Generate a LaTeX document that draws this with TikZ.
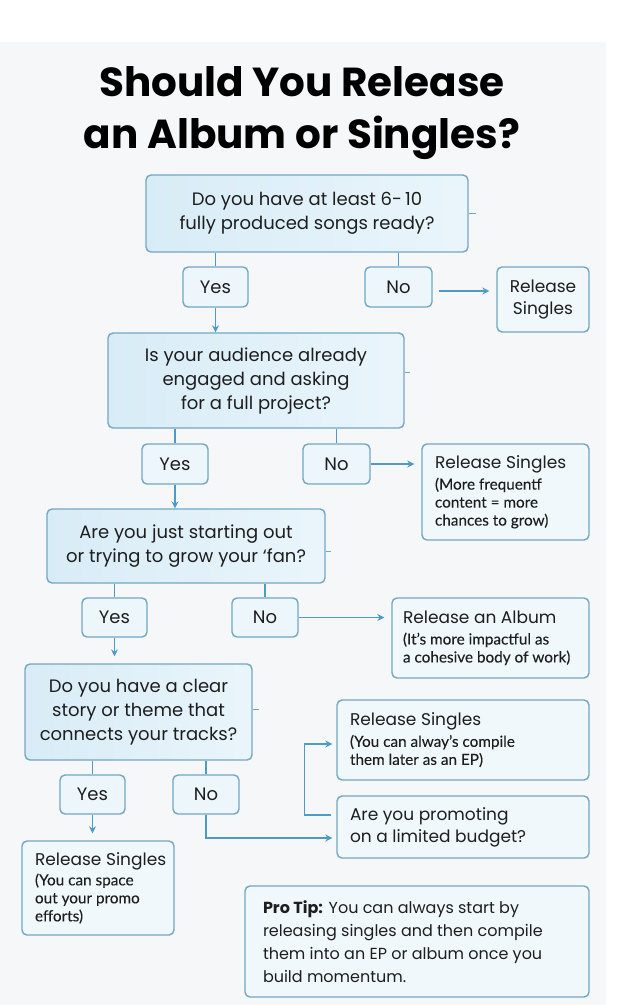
\documentclass[tikz,border=0pt]{standalone}
\usepackage{fontspec}
\setmainfont{Poppins}
\newfontfamily\subfont{Lato}[FakeBold=0.1]
\usetikzlibrary{arrows.meta,calc}
\definecolor{linec}{HTML}{4E9CC6}
\definecolor{bordc}{HTML}{72A8C2}
\definecolor{qfill}{HTML}{D8ECF7}
\definecolor{qfilltwo}{HTML}{EAF5FB}
\definecolor{ynfill}{HTML}{EDF6FB}
\definecolor{rfill}{HTML}{F1F8FC}
\definecolor{panel}{HTML}{F5F7F8}
\definecolor{txt}{HTML}{1E1E1E}
\tikzset{
  box/.style={draw=bordc, line width=1.4pt, rounded corners=5pt, inner sep=0pt, text=txt},
  qbox/.style={box, left color=qfill, right color=qfilltwo, align=center, font=\fontsize{18}{24}\selectfont},
  ynbox/.style={box, fill=ynfill, font=\fontsize{18}{24}\selectfont},
  rbox/.style={box, fill=rfill, align=flush left, inner xsep=13pt, font=\subfont\fontsize{15.3}{18}\selectfont},
  conn/.style={draw=linec, line width=1.5pt},
  arr/.style={conn, -{Stealth[length=7pt,width=7pt]}},
  tick/.style={draw=bordc, line width=1pt},
  titlefont/.style={font=\fontsize{40.5}{52}\selectfont\bfseries, text=black, inner sep=0pt}
}
\newcommand{\hd}[1]{\mbox{\rmfamily\fontsize{17}{18}\selectfont #1}}
\begin{document}
\begin{tikzpicture}[x=1pt,y=-1pt]
\useasboundingbox (0,0) rectangle (640,1005);
\fill[white] (0,0) rectangle (640,1005);
\fill[panel] (0,42) rectangle (606,1005);

\node[titlefont, anchor=base] (t1) at (302,96.5) {Should You Release};
\node[titlefont, anchor=base] (t2) at (302,148.5) {an Album or Singles?};

% row 1
\node[qbox, minimum width=322pt, minimum height=77pt] (q1) at (307,213.5) {Do you have at least 6-\,10\\fully produced songs ready?};
\node[ynbox, minimum width=65pt, minimum height=40pt] (yes1) at (215.5,287) {Yes};
\node[ynbox, minimum width=67pt, minimum height=40pt] (no1) at (398.5,287) {No};
\node[box, fill=rfill, align=center, font=\fontsize{17}{22}\selectfont, minimum width=92pt, minimum height=65pt] (rs1) at (543,299.5) {Release\\Singles};

% row 2
\node[qbox, minimum width=296pt, minimum height=95pt] (q2) at (256,380.5) {Is your audience already\\engaged and asking\\for a full project?};
\node[ynbox, minimum width=66pt, minimum height=40pt] (yes2) at (175,464) {Yes};
\node[ynbox, minimum width=67pt, minimum height=40pt] (no2) at (336.5,464) {No};
\node[rbox, text width=141pt, minimum height=96pt] (rs2) at (505.5,492) {\hd{Release Singles}\\[3pt](More frequentf\\content = more\\chances to grow)};

% row 3
\node[qbox, minimum width=278pt, minimum height=74pt] (q3) at (186,546) {Are you just starting out\\or trying to grow your ‘fan?};
\node[ynbox, minimum width=65pt, minimum height=39pt] (yes3) at (114.5,617.5) {Yes};
\node[ynbox, minimum width=66pt, minimum height=39pt] (no3) at (265,617.5) {No};
\node[rbox, text width=175pt, minimum height=80pt, inner xsep=11pt] (album) at (490.5,638) {\hd{Release an Album}\\[3pt](It’s more impactful as\\a cohesive body of work)};

% row 4
\node[qbox, minimum width=227pt, minimum height=96pt] (q4) at (138.5,712) {Do you have a clear\\story or theme that\\connects your tracks?};
\node[ynbox, minimum width=65pt, minimum height=39pt] (yes4) at (92.5,794.5) {Yes};
\node[ynbox, minimum width=66pt, minimum height=39pt] (no4) at (206,794.5) {No};
\node[rbox, text width=226pt, minimum height=80pt] (rs3) at (463,740) {\hd{Release Singles}\\[3pt](You can alway’s compile\\them later as an EP)};
\node[rbox, text width=226pt, minimum height=62pt, font=\rmfamily\fontsize{17}{22}\selectfont] (budget) at (463,827) {Are you promoting\\on a limited budget?};
\node[rbox, text width=126pt, minimum height=94pt] (rs4) at (98,888) {\hd{Release Singles}\\[2pt](You can space\\out your promo\\efforts)};
\node[rbox, text width=308pt, inner xsep=18pt, minimum height=111pt, font=\rmfamily\fontsize{16}{23}\selectfont] (tip) at (417,941.5) {\textbf{Pro Tip:} You can always start by\\releasing singles and then compile\\them into an EP or album once you\\build momentum.};

% ticks
\draw[tick] (q1.east) -- ++(7,0);
\draw[tick] ($(q2.east)+(0,-8.5)$) -- ++(5,0);
\draw[tick] ($(q3.east)+(0,5)$) -- ++(5,0);
\draw[tick] ($(q4.east)+(0,-3)$) -- ++(6,0);

% connectors
\draw[conn] (q1.south -| yes1.north) -- (yes1.north);
\draw[conn] (q1.south -| no1.north) -- (no1.north);
\coordinate (a1) at ($(no1.east)+(6,4)$);
\draw[arr, shorten >=7pt] (a1) -- (a1 -| rs1.west);
\draw[arr] (yes1.south) -- (yes1.south |- q2.north);

\draw[conn] (q2.south -| yes2.north) -- (yes2.north);
\draw[conn] (q2.south -| no2.north) -- (no2.north);
\draw[arr, shorten >=7pt] (no2.east) -- (no2.east -| rs2.west);
\draw[arr] (yes2.south) -- (yes2.south |- q3.north);

\draw[conn] (q3.south -| yes3.north) -- (yes3.north);
\draw[conn] (q3.south -| no3.north) -- (no3.north);
\draw[arr, shorten >=7pt] (no3.east) -- (no3.east -| album.west);
\draw[arr, shorten >=7pt] (yes3.south) -- (yes3.south |- q4.north);

\draw[conn] (q4.south -| yes4.north) -- (yes4.north);
\draw[conn] (q4.south -| no4.north) -- (no4.north);
\coordinate (b1) at ($(budget.west)+(0,11)$);
\draw[arr, shorten >=4pt] (no4.south) |- (b1);
\coordinate (b2) at ($(budget.west)+(-5,-12)$);
\coordinate (r3) at ($(rs3.west)+(0,4)$);
\draw[arr, shorten >=4pt] (b2) -- ++(-27,0) |- (r3);
\draw[arr, shorten >=7pt] (yes4.south) -- (yes4.south |- rs4.north);
\end{tikzpicture}
\end{document}
